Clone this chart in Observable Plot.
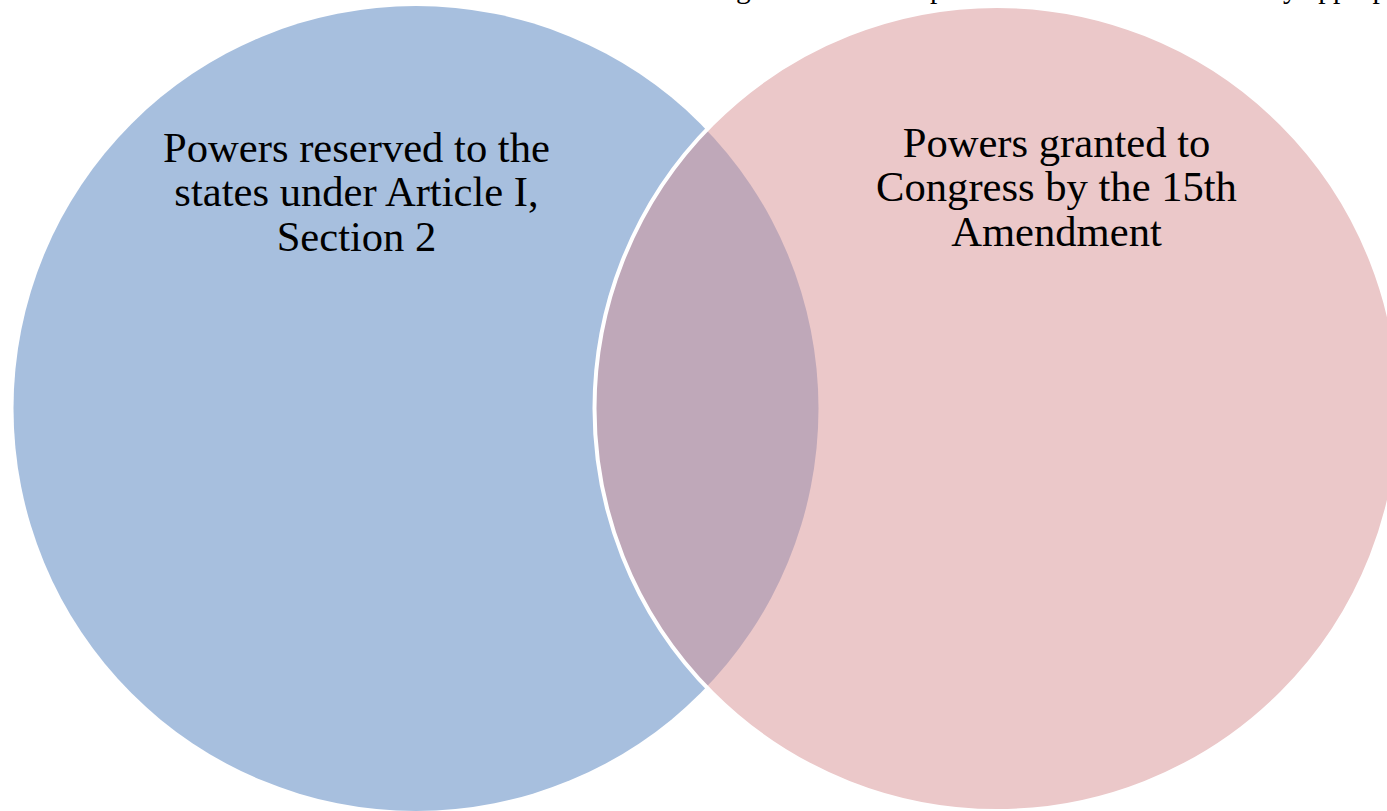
<!DOCTYPE html>
<html>
<head>
<meta charset="utf-8">
<script src="https://cdn.jsdelivr.net/npm/d3@7"></script>
<script src="https://cdn.jsdelivr.net/npm/@observablehq/plot@0.6"></script>
<style>
  html, body { margin: 0; padding: 0; background: #ffffff; }
  #chart svg { display: block; }
</style>
</head>
<body>
<div id="chart"></div>
<script>
// Venn sets (centers and radius in chart units)
const setNames = ["reserved", "granted"];
const setCx = [0, 581];
const setCy = [0, 0];
const setR = [402.5, 402.5];
const setFill = ["#a7bfde", "#d79193"];
const setFillOpacity = [1, 0.5];
const setStroke = ["none", "#ffffff"];

// Labels
const labelTexts = [
  "Powers reserved to the\nstates under Article I,\nSection 2",
  "Powers granted to\nCongress by the 15th\nAmendment"
];
const labelX = [-59.5, 640.5];
const labelY = [158, 163];

// Cropped line of text at the very top (only descenders visible)
const topText = ["The Congress shall have power to enforce this article by appropriate legislation."];
const topX = [217.5];
const topY = [411];

const circles = setNames.map((n, i) => ({
  name: n, cx: setCx[i], cy: setCy[i], r: setR[i],
  fill: setFill[i], fo: setFillOpacity[i], stroke: setStroke[i]
}));
const labels = labelTexts.map((t, i) => ({text: t, x: labelX[i], y: labelY[i]}));
const tops = topText.map((t, i) => ({text: t, x: topX[i], y: topY[i]}));

const plot = Plot.plot({
  width: 1387,
  height: 811,
  margin: 0,
  style: {background: "#ffffff", overflow: "hidden"},
  x: {domain: [-415.5, 971.5], axis: null},
  y: {domain: [-403, 408], axis: null},
  r: {type: "identity"},
  marks: [
    Plot.dot(circles.slice(0, 1), {
      x: "cx", y: "cy", r: "r", fill: d => d.fill, fillOpacity: d => d.fo, stroke: "none"
    }),
    Plot.dot(circles.slice(1), {
      x: "cx", y: "cy", r: "r", fill: d => d.fill, fillOpacity: d => d.fo,
      stroke: d => d.stroke, strokeWidth: 4, strokeOpacity: 1
    }),
    Plot.text(labels, {
      x: "x", y: "y", text: "text",
      fontFamily: "'Liberation Serif', 'Times New Roman', serif",
      fontSize: 42.6, lineHeight: 1.04, lineAnchor: "bottom", textAnchor: "middle",
      fill: "#000000"
    }),
    Plot.text(tops, {
      x: "x", y: "y", text: "text",
      fontFamily: "'Liberation Serif', 'Times New Roman', serif",
      fontSize: 29.5, lineAnchor: "bottom", textAnchor: "start",
      fill: "#000000"
    })
  ]
});
document.getElementById("chart").appendChild(plot);
</script>
</body>
</html>
